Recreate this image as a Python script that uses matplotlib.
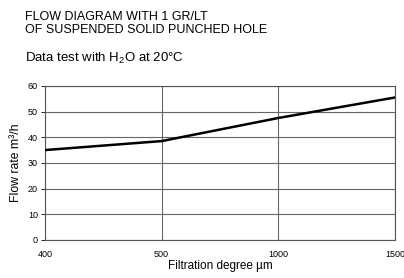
import numpy as np
import matplotlib.pyplot as plt

plt.rcParams['font.family'] = ['Liberation Sans', 'DejaVu Sans']
plt.rcParams['mathtext.fontset'] = 'custom'
plt.rcParams['mathtext.rm'] = 'Liberation Sans'
plt.rcParams['mathtext.it'] = 'Liberation Sans:italic'

# filtration degree categories (equally spaced on the chart)
degrees = ['400', '500', '1000', '1500']
flow_rate = [35, 38.5, 47.5, 55.5]
y_ticks = [0, 10, 20, 30, 40, 50, 60]

fig = plt.figure(figsize=(4.04, 2.78), dpi=100)
ax = fig.add_axes([0.111, 0.137, 0.867, 0.554])

x = np.arange(len(degrees))
ax.plot(x, flow_rate, color='black', linewidth=1.8, zorder=3)

ax.set_xlim(0, len(degrees) - 1)
ax.set_ylim(0, 60)
ax.set_xticks(x)
ax.set_xticklabels(degrees)
ax.set_yticks(y_ticks)
ax.tick_params(axis='x', length=0, pad=7, labelsize=6.5)
ax.tick_params(axis='y', length=3, width=0.6, pad=2, labelsize=6.5)
ax.grid(True, color='#666666', linewidth=0.8)
for s in ax.spines.values():
    s.set_color('#555555')
    s.set_linewidth(0.8)

ax.set_xlabel('Filtration degree µm', fontsize=8.5, labelpad=1)
ax.set_ylabel('Flow rate m³/h', fontsize=8.8, labelpad=4)

fig.text(0.062, 0.96, 'FLOW DIAGRAM WITH 1 GR/LT\nOF SUSPENDED SOLID PUNCHED HOLE',
         fontsize=9, va='top', ha='left', linespacing=1.1)
fig.text(0.062, 0.79, r'Data test with H$_\mathrm{2}$O at 20°C', fontsize=9.5,
         ha='left', va='center')

fig.savefig('out.png', dpi=100)
